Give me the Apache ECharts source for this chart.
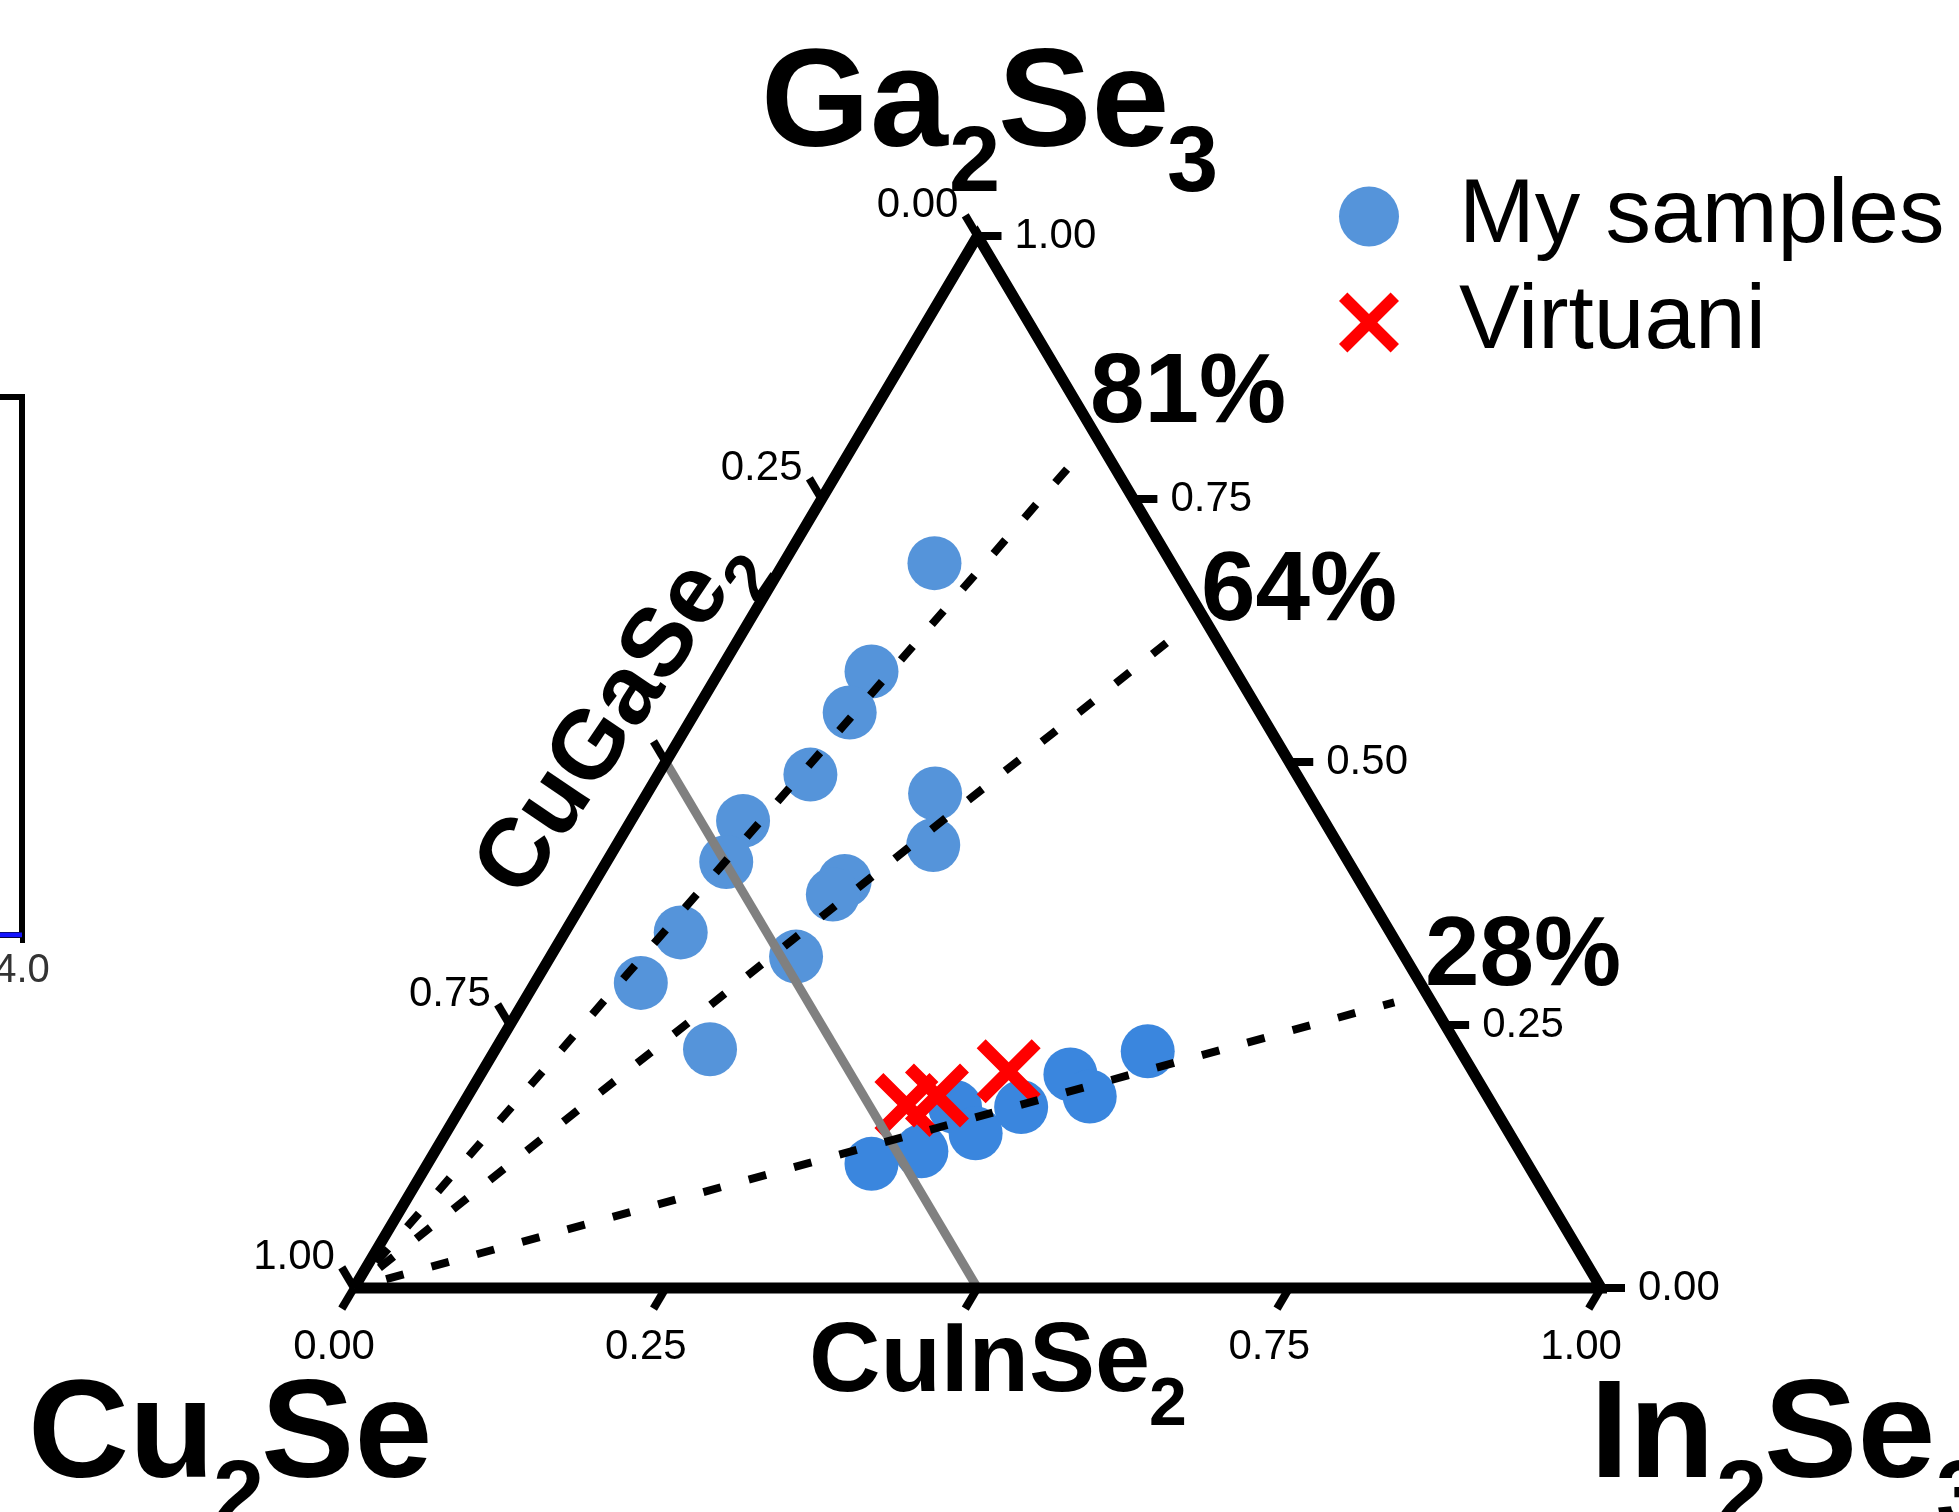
<!DOCTYPE html>
<html>
<head>
<meta charset="utf-8">
<script src="https://cdn.jsdelivr.net/npm/echarts/dist/echarts.min.js"></script>
<style>
  html, body { margin: 0; padding: 0; background: #fff; }
  #chart { width: 1959px; height: 1512px; }
</style>
</head>
<body>
<div id="chart"></div>
<script>
// compositions as [Cu2Se, In2Se3, Ga2Se3] fractions
const mySamplesGa = [
  [0.190, 0.121, 0.689], [0.292, 0.122, 0.586], [0.329, 0.124, 0.547],
  [0.390, 0.122, 0.488], [0.466, 0.090, 0.444], [0.499, 0.096, 0.405],
  [0.569, 0.093, 0.338], [0.625, 0.085, 0.290], [0.299, 0.231, 0.470],
  [0.325, 0.254, 0.421], [0.413, 0.200, 0.387], [0.429, 0.197, 0.374],
  [0.488, 0.197, 0.315], [0.601, 0.172, 0.227]
];
const mySamplesIn = [
  [0.526, 0.356, 0.118], [0.480, 0.390, 0.130], [0.432, 0.396, 0.172],
  [0.428, 0.425, 0.147], [0.379, 0.449, 0.172], [0.324, 0.473, 0.203],
  [0.319, 0.499, 0.182], [0.251, 0.524, 0.225]
];
const virtuani = [[0.470, 0.356, 0.174], [0.441, 0.376, 0.183], [0.372, 0.422, 0.206]];

// Ga/(Ga+In) guide lines from the Cu2Se corner
const ratioLines = [0.81, 0.64, 0.28];
const ratioLabels = ['81%', '64%', '28%'];
const tieLine = [[0.5, 0, 0.5], [0.5, 0.5, 0]];   // CuGaSe2 - CuInSe2
const corners = [[1, 0, 0], [0, 1, 0], [0, 0, 1], [1, 0, 0]];

const tickValues = [0, 0.25, 0.5, 0.75, 1];
const bottomTickLabels = ['0.00', '0.25', '', '0.75', '1.00'];
const rightTickLabels = ['0.00', '0.25', '0.50', '0.75', '1.00'];
const leftTickLabels = ['0.00', '0.25', '', '0.75', '1.00'];

// bit of the neighbouring plot cut off at the left edge
const sideX = [3.0, 4.0];
const sideY = [0, 0];

const FONT = '"Liberation Sans", Arial, Helvetica, sans-serif';
const X_PATH = 'path://M0,14 L14,0 L50,36 L86,0 L100,14 L64,50 L100,86 L86,100 L50,64 L14,100 L0,86 L36,50 Z';

// ternary -> cartesian (x = In + Ga/2, y = Ga)
const toXY = (c) => [c[1] + c[2] / 2, c[2]];

const guideData = ratioLines.map((r) => {
  const t0 = 0.03, t1 = 0.97;
  return [[1 - t0, (1 - r) * t0, r * t0], [1 - t1, (1 - r) * t1, r * t1]].map(toXY);
});

const tickData = [];
tickValues.forEach((v, i) => {
  tickData.push(toXY([1 - v, v, 0]).concat([0, i]));
  tickData.push(toXY([0, 1 - v, v]).concat([1, i]));
  tickData.push(toXY([v, 0, 1 - v]).concat([2, i]));
});

const unit = (dx, dy) => {
  const l = Math.sqrt(dx * dx + dy * dy);
  return [dx / l, dy / l];
};

function renderTick(params, api) {
  const p = api.coord([api.value(0), api.value(1)]);
  const side = api.value(2), i = api.value(3);
  const L = api.coord(toXY([1, 0, 0]));
  const R = api.coord(toXY([0, 1, 0]));
  const T = api.coord(toXY([0, 0, 1]));
  let d, lab, pos, align;
  if (side === 0) {
    d = unit(L[0] - T[0], L[1] - T[1]);
    lab = bottomTickLabels[i]; pos = [p[0] - 20, p[1] + 59]; align = 'center';
  } else if (side === 1) {
    d = [1, 0];
    lab = rightTickLabels[i]; pos = [p[0] + 37, p[1]]; align = 'left';
  } else {
    d = unit(T[0] - R[0], T[1] - R[1]);
    lab = leftTickLabels[i]; pos = [p[0] - 60, p[1] - 31]; align = 'center';
  }
  return {
    type: 'group',
    children: [
      { type: 'line', shape: { x1: p[0], y1: p[1], x2: p[0] + d[0] * 24, y2: p[1] + d[1] * 24 },
        style: { stroke: '#000', lineWidth: 8 } },
      { type: 'text', style: { text: lab, x: pos[0], y: pos[1], align: align, verticalAlign: 'middle',
        fontSize: 42, fontFamily: FONT, fill: '#000' } }
    ]
  };
}

// text placed by its baseline
function txt(x, baseline, text, size) {
  return {
    type: 'text', x: x, y: baseline - 0.27 * size, z: 10,
    style: { text: text, fontSize: size, fontWeight: 'bold', fontFamily: FONT, fill: '#000',
      align: 'left', verticalAlign: 'middle' }
  };
}

const chart = echarts.init(document.getElementById('chart'));
chart.setOption({
  animation: false,
  backgroundColor: '#fff',
  grid: [
    { left: 354, top: 236, width: 1247, height: 1052, outerBoundsMode: 'none' },
    { left: -200, top: 397, width: 222, height: 538, show: true, borderColor: '#000',
      borderWidth: 6, outerBoundsMode: 'none' }
  ],
  xAxis: [
    { gridIndex: 0, type: 'value', min: 0, max: 1, show: false },
    { gridIndex: 1, type: 'value', min: 3, max: 4, interval: 1,
      axisLine: { show: false },
      axisTick: { show: true, length: 8, lineStyle: { color: '#000', width: 5 } },
      axisLabel: { fontSize: 40, color: '#333', margin: 16, fontFamily: FONT,
        formatter: (v) => v.toFixed(1) },
      splitLine: { show: false } }
  ],
  yAxis: [
    { gridIndex: 0, type: 'value', min: 0, max: 1, show: false },
    { gridIndex: 1, type: 'value', min: 0, max: 1, show: false }
  ],
  legend: {
    orient: 'vertical', left: 1339, top: 171, padding: 0,
    itemWidth: 170, itemHeight: 60, itemGap: 15, selectedMode: false,
    textStyle: { fontSize: 91, lineHeight: 91, color: '#000', fontFamily: FONT },
    data: ['My samples', 'Virtuani']
  },
  series: [
    {
      name: 'My samples', type: 'scatter', z: 2, symbol: 'circle', symbolSize: 54,
      itemStyle: { color: '#5594da', opacity: 1 },
      data: mySamplesGa.map(toXY)
    },
    {
      name: 'My samples', type: 'scatter', z: 2, symbol: 'circle', symbolSize: 54,
      itemStyle: { color: '#3a86de', opacity: 1 },
      data: mySamplesIn.map(toXY)
    },
    {
      name: 'Virtuani', type: 'scatter', z: 3, symbol: X_PATH, symbolSize: 64,
      itemStyle: { color: '#ff0000', opacity: 1 },
      data: virtuani.map(toXY)
    },
    {
      type: 'line', z: 4, silent: true, clip: false, symbol: 'none',
      lineStyle: { color: '#808080', width: 9 },
      data: tieLine.map(toXY)
    },
    ...guideData.map((d) => ({
      type: 'line', z: 5, silent: true, clip: false, symbol: 'none',
      lineStyle: { color: '#000', width: 8, type: [18, 29], cap: 'butt' },
      data: d
    })),
    {
      type: 'line', z: 6, silent: true, clip: false, symbol: 'none',
      lineStyle: { color: '#000', width: 11, join: 'miter' },
      data: corners.map(toXY)
    },
    {
      type: 'custom', z: 6, silent: true, clip: false,
      renderItem: renderTick, encode: { x: 0, y: 1 },
      data: tickData
    },
    {
      type: 'line', xAxisIndex: 1, yAxisIndex: 1, z: 3, silent: true, symbol: 'none',
      lineStyle: { color: '#1414ff', width: 5 },
      data: sideX.map((x, i) => [x, sideY[i]])
    }
  ],
  graphic: [
    txt(761, 145, 'Ga', 140), txt(949, 190, '2', 92), txt(998, 145, 'Se', 140), txt(1167, 190, '3', 92),
    txt(28, 1476, 'Cu', 140), txt(213, 1524, '2', 92), txt(261, 1476, 'Se', 140),
    txt(1590, 1476, 'In', 140), txt(1716, 1524, '2', 92), txt(1764, 1476, 'Se', 140), txt(1936, 1524, '3', 92),
    txt(809, 1390, 'CuInSe', 99), txt(1149, 1425, '2', 68),
    txt(1090, 421, ratioLabels[0], 98), txt(1201, 619, ratioLabels[1], 98), txt(1425, 984, ratioLabels[2], 98),
    {
      type: 'group', x: 605, y: 730, rotation: 56 * Math.PI / 180, z: 10,
      children: [
        { type: 'text', x: 0, y: 0, style: { text: 'CuGaSe', fontSize: 97, fontWeight: 'bold',
          fontFamily: FONT, fill: '#000', align: 'center', verticalAlign: 'middle' } },
        { type: 'text', x: 207, y: 38, style: { text: '2', fontSize: 68, fontWeight: 'bold',
          fontFamily: FONT, fill: '#000', align: 'center', verticalAlign: 'middle' } }
      ]
    }
  ]
});
</script>
</body>
</html>
